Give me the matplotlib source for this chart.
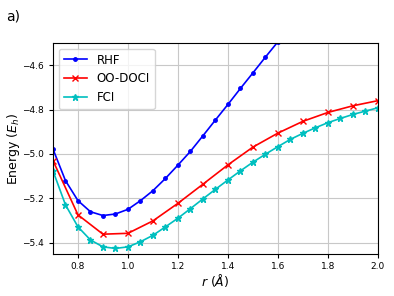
import matplotlib
matplotlib.use("Agg")
import matplotlib.pyplot as plt

# bond length grids
r_fine = [0.70, 0.75, 0.80, 0.85, 0.90, 0.95, 1.00, 1.05, 1.10, 1.15, 1.20,
          1.25, 1.30, 1.35, 1.40, 1.45, 1.50, 1.55, 1.60, 1.65, 1.70, 1.75,
          1.80, 1.85, 1.90, 1.95, 2.00]
r_doci = [0.7, 0.8, 0.9, 1.0, 1.1, 1.2, 1.3, 1.4, 1.5, 1.6, 1.7, 1.8, 1.9, 2.0]

# energies (E_h)
e_rhf = [-4.978, -5.120, -5.210, -5.260, -5.277, -5.270, -5.249, -5.210,
         -5.165, -5.110, -5.050, -4.988, -4.918, -4.847, -4.777, -4.705,
         -4.635, -4.564, -4.495, -4.428, -4.362, -4.298, -4.236, -4.176,
         -4.118, -4.062, -4.008]
e_doci = [-5.030, -5.274, -5.361, -5.357, -5.301, -5.222, -5.136, -5.049,
          -4.969, -4.906, -4.853, -4.813, -4.783, -4.760]
e_fci = [-5.076, -5.229, -5.328, -5.387, -5.418, -5.425, -5.418, -5.395,
         -5.366, -5.328, -5.289, -5.246, -5.202, -5.159, -5.117, -5.076,
         -5.037, -5.001, -4.967, -4.934, -4.907, -4.882, -4.859, -4.840,
         -4.822, -4.807, -4.792]

fig = plt.figure(figsize=(3.94, 2.96), dpi=100)
ax = fig.add_axes([0.1345, 0.142, 0.8245, 0.713])

ax.plot(r_fine, e_rhf, color="b", marker=".", markersize=5, linewidth=1.2, label="RHF")
ax.plot(r_doci, e_doci, color="r", marker="x", markersize=5, linewidth=1.2, label="OO-DOCI")
ax.plot(r_fine, e_fci, color="c", marker="*", markersize=5, linewidth=1.2, label="FCI")

ax.set_xlim(0.7, 2.0)
ax.set_ylim(-5.45, -4.5)
ax.set_xticks([0.8, 1.0, 1.2, 1.4, 1.6, 1.8, 2.0])
ax.set_yticks([-5.4, -5.2, -5.0, -4.8, -4.6])
ax.tick_params(labelsize=6.5, length=3)
ax.tick_params(axis="x", pad=2.5)
ax.grid(True, color="#c8c8c8", linewidth=0.8)
ax.set_xlabel(r"$r$ ($\AA$)", fontsize=9, labelpad=1)
ax.set_ylabel(r"Energy ($E_h$)", fontsize=9, labelpad=0)
ax.legend(loc="upper left", fontsize=8.5)

fig.text(0.015, 0.93, "a)", fontsize=10)

fig.savefig("out.png", dpi=100)
